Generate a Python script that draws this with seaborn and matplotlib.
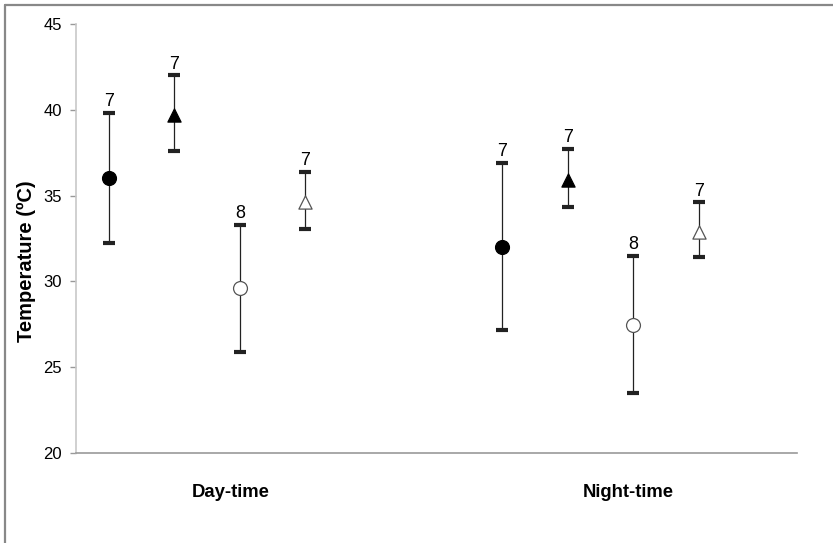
import numpy as np
import pandas as pd
import matplotlib
matplotlib.use("Agg")
import matplotlib.pyplot as plt
import seaborn as sns
from matplotlib.lines import Line2D

sns.set_theme(style="white")
plt.rcParams['font.family'] = ['Liberation Sans', 'DejaVu Sans']
plt.rcParams['text.color'] = 'black'
plt.rcParams['axes.labelcolor'] = 'black'
plt.rcParams['xtick.color'] = 'black'
plt.rcParams['ytick.color'] = 'black'

# ---- data ----
groups = ["Day-time", "Night-time"]
series = ["filled circle", "filled triangle", "open circle", "open triangle"]
x_pos_day = [0.5, 1.5, 2.5, 3.5]
x_pos_night = [6.5, 7.5, 8.5, 9.5]
means_day = [36.0, 39.7, 29.6, 34.6]
means_night = [32.0, 35.9, 27.45, 32.9]
upper_day = [39.8, 42.0, 33.3, 36.35]
upper_night = [36.9, 37.7, 31.5, 34.6]
lower_day = [32.25, 37.6, 25.9, 33.05]
lower_night = [27.15, 34.35, 23.5, 31.4]
n_labels = ["7", "7", "8", "7"]
yticks = [20, 25, 30, 35, 40, 45]

df = pd.DataFrame({
    "x": x_pos_day + x_pos_night,
    "mean": means_day + means_night,
    "upper": upper_day + upper_night,
    "lower": lower_day + lower_night,
    "series": series * 2,
    "n": n_labels * 2,
})

fig = plt.figure(figsize=(8.33, 5.43), dpi=100)
ax = fig.add_axes([76 / 833, 1 - 453 / 543, 721 / 833, 429 / 543])

# error bars
for _, r in df.iterrows():
    ax.errorbar(r["x"], r["mean"],
                yerr=[[r["mean"] - r["lower"]], [r["upper"] - r["mean"]]],
                fmt="none", ecolor="#222222", elinewidth=0.9,
                capsize=4.5, capthick=3, zorder=2)

styles = {
    "filled circle": dict(marker="o", fc="black", ec="black", s=100),
    "filled triangle": dict(marker="^", fc="black", ec="black", s=90),
    "open circle": dict(marker="o", fc="white", ec="#555555", s=100),
    "open triangle": dict(marker="^", fc="white", ec="#555555", s=90),
}
for name in series:
    sub = df[df["series"] == name]
    st = styles[name]
    sns.scatterplot(data=sub, x="x", y="mean", ax=ax, marker=st["marker"],
                    s=st["s"], color=st["fc"], edgecolor=st["ec"],
                    linewidth=0.9, zorder=3, legend=False)

for _, r in df.iterrows():
    ax.annotate(r["n"], (r["x"], r["upper"]), xytext=(0, 5),
                textcoords="offset points", ha="center", va="baseline",
                fontsize=13, color="black")

ax.set_xlim(0, 11)
ax.set_ylim(20, 45)
ax.set_yticks(yticks)
ax.set_yticklabels([str(t) for t in yticks], fontsize=12, color="black")
ax.set_xticks([2.36, 8.42])
ax.set_xticklabels(groups, fontsize=13.3, fontweight="bold", color="black")
ax.tick_params(axis="x", length=0, pad=22)
ax.tick_params(axis="y", length=4, width=1, color="#999999", pad=6,
               left=True, labelcolor="black")
ax.set_xlabel("")
ax.set_ylabel("Temperature (ºC)", fontsize=14.5, fontweight="bold",
              va="center", color="black")
ax.yaxis.set_label_coords(-0.069, 0.448)

for s in ["top", "right"]:
    ax.spines[s].set_visible(False)
ax.spines["left"].set_color("#c8c8c8")
ax.spines["left"].set_linewidth(1.2)
ax.spines["bottom"].set_color("#999999")
ax.spines["bottom"].set_linewidth(1.2)

# outer frame (top and left edges)
fig.add_artist(Line2D([5 / 833, 1], [1 - 5 / 543, 1 - 5 / 543],
                      transform=fig.transFigure, color="#888888", lw=1.6))
fig.add_artist(Line2D([5 / 833, 5 / 833], [0, 1 - 5 / 543],
                      transform=fig.transFigure, color="#888888", lw=1.6))

fig.savefig("out.png", dpi=100, facecolor="white")
